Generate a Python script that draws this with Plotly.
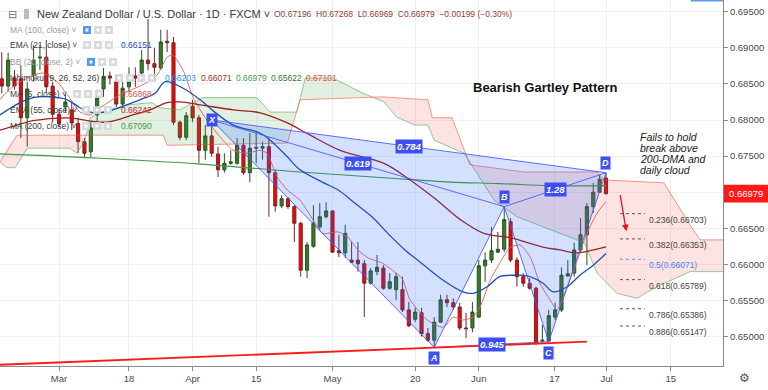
import plotly.graph_objects as go

# ---------------- data ----------------
bar_index = list(range(-9, 87))  # 0 = 1 Mar 2019
opens = [0.6857,0.6847,0.6858,0.6857,0.6803,0.6862,0.6886,0.6887,0.6847,
         0.6808,0.6818,0.6814,0.6795,0.6770,0.6756,0.6807,0.6843,0.6861,0.6853,
         0.6822,0.6846,0.6861,0.6865,0.6883,0.6878,0.6872,0.6909,0.6907,0.6797,
         0.6776,0.6819,0.6803,0.6758,0.6778,0.6753,0.6731,0.6740,0.6740,0.6765,
         0.6727,0.6761,0.6761,0.6763,0.6727,0.6681,0.6691,0.6680,0.6657,0.6592,
         0.6625,0.6652,0.6666,0.6674,0.6619,0.6616,0.6606,0.6606,0.6601,0.6574,
         0.6590,0.6595,0.6567,0.6565,0.6565,0.6537,0.6524,0.6533,0.6504,0.6495,
         0.6520,0.6551,0.6547,0.6541,0.6512,0.6512,0.6527,0.6598,0.6606,0.6617,
         0.6621,0.6659,0.6606,0.6583,0.6574,0.6567,0.6494,0.6494,0.6527,0.6537,
         0.6584,0.6588,0.6620,0.6641,0.6680,0.6700,0.67196]
highs = [0.6894,0.6893,0.6869,0.6876,0.6853,0.6904,0.6904,0.6911,0.6853,
         0.6814,0.6835,0.6825,0.6803,0.6775,0.6797,0.6842,0.6872,0.6867,0.6862,
         0.6853,0.6873,0.6873,0.6897,0.6940,0.6900,0.6925,0.6925,0.6915,0.6799,
         0.6811,0.6828,0.6807,0.6793,0.6800,0.6763,0.6754,0.6758,0.6775,0.6775,
         0.6782,0.6783,0.6770,0.6776,0.6731,0.6696,0.6693,0.6682,0.6659,0.6631,
         0.6682,0.6685,0.6686,0.6675,0.6641,0.6655,0.6631,0.6631,0.6606,0.6595,
         0.6613,0.6599,0.6588,0.6588,0.6583,0.6548,0.6540,0.6540,0.6512,0.6527,
         0.6558,0.6558,0.6553,0.6547,0.6533,0.6548,0.6606,0.6617,0.6652,0.6645,
         0.6680,0.6664,0.6610,0.6588,0.6581,0.6569,0.6516,0.6537,0.6547,0.6596,
         0.6606,0.6630,0.6664,0.6685,0.6713,0.6724,0.67268]
lows = [0.6837,0.6839,0.6842,0.6775,0.6763,0.6853,0.6869,0.6837,0.6797,
        0.6790,0.6811,0.6786,0.6754,0.6747,0.6749,0.6797,0.6832,0.6849,0.6818,
        0.6818,0.6839,0.6846,0.6853,0.6869,0.6855,0.6869,0.6894,0.6793,0.6772,
        0.6772,0.6797,0.6740,0.6745,0.6749,0.6721,0.6727,0.6738,0.6738,0.6724,
        0.6714,0.6740,0.6745,0.6666,0.6673,0.6678,0.6677,0.6631,0.6583,0.6581,
        0.6623,0.6648,0.6664,0.6616,0.6610,0.6609,0.6602,0.6590,0.6527,0.6572,
        0.6585,0.6565,0.6565,0.6551,0.6534,0.6513,0.6520,0.6500,0.6493,0.6485,
        0.6519,0.6541,0.6537,0.6509,0.6498,0.6506,0.6526,0.6576,0.6602,0.6616,
        0.6617,0.6603,0.6569,0.6569,0.6565,0.6488,0.6491,0.6493,0.6523,0.6534,
        0.6583,0.6583,0.6617,0.6599,0.6671,0.6699,0.66969]
closes = [0.6847,0.6883,0.6847,0.6803,0.6843,0.6883,0.6887,0.6846,0.6808,
          0.6795,0.6825,0.6796,0.6770,0.6754,0.6789,0.6831,0.6860,0.6858,0.6822,
          0.6844,0.6853,0.6858,0.6883,0.6878,0.6873,0.6908,0.6907,0.6797,0.6776,
          0.6806,0.6803,0.6758,0.6778,0.6754,0.6731,0.6740,0.6742,0.6765,0.6727,
          0.6761,0.6762,0.6763,0.6727,0.6681,0.6691,0.6680,0.6657,0.6592,0.6627,
          0.6657,0.6666,0.6674,0.6617,0.6616,0.6643,0.6603,0.6601,0.6574,0.6591,
          0.6596,0.6567,0.6576,0.6583,0.6537,0.6515,0.6534,0.6504,0.6495,0.6520,
          0.6551,0.6547,0.6541,0.6512,0.6511,0.6534,0.6598,0.6606,0.6619,0.6621,
          0.6662,0.6606,0.6583,0.6574,0.6567,0.6491,0.6495,0.6529,0.6537,0.6585,
          0.6587,0.6620,0.6641,0.6680,0.6700,0.6718,0.66979]

x_tick_pos = [0, 11, 21, 31, 43, 56, 66, 77.9, 86.1, 96.2]
x_tick_text = ["Mar", "18", "Apr", "15", "May", "20", "Jun", "17", "Jul", "15"]
y_ticks = [0.650, 0.655, 0.660, 0.665, 0.670, 0.675, 0.680, 0.685, 0.690, 0.695]

# indicator lines (read at knots)
ema21_x = [-9.3,-6.1,-4.1,-1.4,1.3,3.3,4.9,7.2,12.7,15.1,16.7,19.5,22.2,24.2,27.4,31.6,33.2,35.9,
           37.9,41.4,43.9,46.5,49.2,51.7,54.4,56.8,60.4,63.5,65.1,67.3,69.3,71.7,73.6,76.1,77.7,
           79.9,81.9,84.0,86.0]
ema21_y = [0.6807,0.6824,0.6831,0.6832,0.6828,0.6817,0.6811,0.6811,0.6828,0.6837,0.6853,0.6844,
           0.6828,0.6813,0.6793,0.6782,0.6772,0.6749,0.6731,0.6714,0.6703,0.6685,0.6666,0.6643,
           0.6620,0.6603,0.6578,0.6562,0.6560,0.6569,0.6583,0.6585,0.6584,0.6574,0.6562,0.6569,
           0.6585,0.6599,0.66151]
ema55_x = [-9.3,-6.6,-4.1,1.3,7.2,11.6,14.3,17.0,19.0,22.2,27.4,31.6,35.9,39.5,44.2,51.1,55.2,
           59.0,63.1,66.8,70.9,76.1,78.8,81.1,84.0,86.0]
ema55_y = [0.6786,0.6793,0.6799,0.6803,0.6797,0.6807,0.6814,0.6824,0.6825,0.6821,0.6814,0.6810,
           0.6796,0.6779,0.6758,0.6740,0.6717,0.6692,0.6662,0.6643,0.6637,0.6624,0.6620,0.6616,
           0.6620,0.66242]
ma200_x = [-9.3, 6.5, 22.2, 37.9, 51.1, 61.5, 69.3, 77.2, 86.0]
ma200_y = [0.6753, 0.6747, 0.6739, 0.6728, 0.6720, 0.6714, 0.6712, 0.6709, 0.67090]
ma5_x = [-9.3,-8.2,-6.1,-4.1,-2.5,-0.3,1.3,3.3,4.9,6.5,9.6,13.2,15.4,17.0,17.9,19.5,21.1,23.0,
         24.8,27.4,29.6,31.6,32.7,34.3,35.9,37.9,39.5,41.4,43.9,45.4,47.0,48.6,50.8,52.4,53.9,
         55.2,57.9,60.4,62.0,63.5,65.1,66.2,67.8,69.3,70.9,72.5,74.1,75.6,77.2,78.3,79.3,81.5,
         83.0,84.6,86.0]
ma5_y = [0.6828,0.6839,0.6853,0.6862,0.6865,0.6853,0.6835,0.6811,0.6807,0.6817,0.6835,0.6849,
         0.6862,0.6887,0.6890,0.6869,0.6831,0.6803,0.6782,0.6758,0.6754,0.6758,0.6754,0.6721,
         0.6703,0.6689,0.6668,0.6643,0.6645,0.6638,0.6620,0.6609,0.6602,0.6592,0.6581,0.6551,
         0.6523,0.6513,0.6527,0.6523,0.6527,0.6541,0.6578,0.6602,0.6623,0.6627,0.6610,0.6574,
         0.6551,0.6537,0.6555,0.6606,0.6643,0.6671,0.66868]

# Ichimoku cloud (leading spans)
spanA_x = [-9.3,-8.2,-6.9,-5.0,1.7,2.8,4.1,4.3,4.9,6.5,10.7,14.6,15.9,19.0,22.6,31.1,33.2,37.4,
           38.7,43.1,47.8,49.2,51.1,53.1,56.0,58.0,59.0,63.7,68.4,72.0,77.4,82.6,84.6,87.7,90.9,
           93.1,94.7,99.2,104.5]
spanA_y = [0.6742,0.6734,0.6734,0.6761,0.6761,0.6754,0.6772,0.6779,0.6803,0.6811,0.6821,0.6824,
           0.6817,0.6814,0.6831,0.6831,0.6811,0.6811,0.6858,0.6858,0.6837,0.6832,0.6825,0.6804,
           0.6793,0.6793,0.6772,0.6754,0.6689,0.6666,0.6648,0.6630,0.6588,0.6560,0.6553,0.6565,
           0.6572,0.6590,0.6590]
spanB_x = [-9.3,-7.7,-6.6,4.3,16.4,17.0,35.9,37.9,49.2,50.9,58.0,58.7,61.8,64.6,73.1,84.6,85.7,
           95.1,99.2,100.8,104.5]
spanB_y = [0.6742,0.6765,0.6779,0.6779,0.6779,0.6765,0.6768,0.6828,0.6832,0.6832,0.6828,0.6803,
           0.6803,0.6738,0.6728,0.6728,0.6717,0.6713,0.6655,0.6634,0.6634]
cloud_breaks = [-9.3, 4.3, 49.2, 104.5]
cloud_bull = [False, True, False]

# Gartley XABCD points
pat_names = ["X", "A", "B", "C", "D"]
pat_x = [24, 59, 70, 77, 86]
pat_y = [0.6800, 0.6485, 0.6680, 0.6493, 0.6727]
ratio_text = ["0.619", "0.784", "1.28", "0.945"]
ratio_pairs = [(0, 2), (0, 4), (2, 4), (1, 3)]

# Fibonacci retracement levels
fib_ratio = ["0.236", "0.382", "0.5", "0.618", "0.786", "0.886"]
fib_price = [0.66703, 0.66353, 0.66071, 0.65789, 0.65386, 0.65147]

# rising support line
support_x = [-9.3, 83.0]
support_y = [0.6461, 0.6493]

last_close = 0.66979

# ---------------- figure ----------------
W, H = 723.0, 366.0
def px(x):
    return x / W
def py(y):
    return (H - y) / H

fig = go.Figure()

# cloud fills
cloud_cols = {True: "rgba(67,160,71,0.16)", False: "rgba(244,67,54,0.15)"}
for k in range(len(cloud_breaks) - 1):
    x0, x1 = cloud_breaks[k], cloud_breaks[k + 1]
    ax = [x for x in spanA_x if x0 <= x <= x1]
    ay = [y for x, y in zip(spanA_x, spanA_y) if x0 <= x <= x1]
    bx = [x for x in spanB_x if x0 <= x <= x1]
    by = [y for x, y in zip(spanB_x, spanB_y) if x0 <= x <= x1]
    fig.add_trace(go.Scatter(x=ax + bx[::-1], y=ay + by[::-1], fill="toself",
                             fillcolor=cloud_cols[cloud_bull[k]], line=dict(width=0),
                             mode="lines", hoverinfo="skip"))
fig.add_trace(go.Scatter(x=spanA_x, y=spanA_y, mode="lines",
                         line=dict(color="rgba(67,160,71,0.55)", width=1)))
fig.add_trace(go.Scatter(x=spanB_x, y=spanB_y, mode="lines",
                         line=dict(color="rgba(244,67,54,0.55)", width=1)))

# MA 200
fig.add_trace(go.Scatter(x=ma200_x, y=ma200_y, mode="lines",
                         line=dict(color="#3f9a45", width=1.2, shape="spline")))

# candles
fig.add_trace(go.Candlestick(
    x=bar_index, open=opens, high=highs, low=lows, close=closes,
    increasing=dict(line=dict(color="#2c4f24", width=1), fillcolor="#377d27"),
    decreasing=dict(line=dict(color="#6a2a2a", width=1), fillcolor="#ff0000"),
    whiskerwidth=0))

# moving averages
fig.add_trace(go.Scatter(x=ma5_x, y=ma5_y, mode="lines",
                         line=dict(color="#e0605a", width=0.9, shape="spline", smoothing=0.6)))
fig.add_trace(go.Scatter(x=ema55_x, y=ema55_y, mode="lines",
                         line=dict(color="#a31f1f", width=1.3, shape="spline")))
fig.add_trace(go.Scatter(x=ema21_x, y=ema21_y, mode="lines",
                         line=dict(color="#1e4fae", width=1.3, shape="spline")))

# pattern fills
pat_fill = "rgba(41,98,255,0.20)"
for tri in [(0, 1, 2), (0, 2, 4), (2, 3, 4)]:
    fig.add_trace(go.Scatter(x=[pat_x[t] for t in tri] + [pat_x[tri[0]]],
                             y=[pat_y[t] for t in tri] + [pat_y[tri[0]]],
                             fill="toself", fillcolor=pat_fill, mode="lines",
                             line=dict(width=0)))
pat_line = "rgba(70,85,245,0.85)"
fig.add_trace(go.Scatter(x=pat_x, y=pat_y, mode="lines", line=dict(color=pat_line, width=1)))
for a, b in ratio_pairs:
    fig.add_trace(go.Scatter(x=[pat_x[a], pat_x[b]], y=[pat_y[a], pat_y[b]], mode="lines",
                             line=dict(color=pat_line, width=1)))

# support line
fig.add_trace(go.Scatter(x=support_x, y=support_y, mode="lines",
                         line=dict(color="#ff1a1a", width=1.8)))

# fib dashed segments
fib_x0, fib_x1 = 88.2, 92.1
for r, p in zip(fib_ratio, fib_price):
    col = "#5b8ef0" if r == "0.5" else "#555555"
    fig.add_trace(go.Scatter(x=[fib_x0, fib_x1], y=[p, p], mode="lines",
                             line=dict(color=col, width=1, dash="3px,3px")))

annotations = []
shapes = []

def note(x, y, text, size, color, xref="paper", yref="paper", xanchor="left",
         yanchor="middle", **kw):
    d = dict(x=x, y=y, xref=xref, yref=yref, text=text, showarrow=False,
             xanchor=xanchor, yanchor=yanchor,
             font=dict(size=size, color=color, family="Liberation Sans"))
    d.update(kw)
    annotations.append(d)

# fib labels
for r, p in zip(fib_ratio, fib_price):
    col = "#4d84ee" if r == "0.5" else "#444444"
    note(92.45, p, f"{r}({p:.5f})", 8.5, col, xref="x", yref="y", yshift=-6)

# pattern point labels
lab_shift = [0, -11, 10, -11, 10]
for n, x, y, s in zip(pat_names, pat_x, pat_y, lab_shift):
    note(x, y, f"<b><i>{n}</i></b>", 9, "white", xref="x", yref="y", xanchor="center",
         yshift=s, bgcolor="#3d4ff2", borderpad=1)
for t, (a, b) in zip(ratio_text, ratio_pairs):
    note((pat_x[a] + pat_x[b]) / 2, (pat_y[a] + pat_y[b]) / 2, f"<b><i>{t}</i></b>", 9.5,
         "white", xref="x", yref="y", xanchor="center", bgcolor="#3d4ff2", borderpad=1)

# text notes
note(px(545), py(87), "<b>Bearish Gartley Pattern</b>", 13, "#111111", xanchor="center")
for txt, yy in [("Fails to hold", 137), ("break above", 148), ("200-DMA and", 159),
                ("daily cloud", 170)]:
    note(px(638), py(yy), f"<i>{txt}</i>", 10.5, "#222222")

# red arrow
annotations.append(dict(x=89.2, y=0.6646, ax=88.2, ay=0.6698, xref="x", yref="y",
                        axref="x", ayref="y", showarrow=True, arrowhead=2, arrowsize=1,
                        arrowwidth=1.3, arrowcolor="#e81010", text=""))

# header
note(px(35), py(14), "New Zealand Dollar / U.S. Dollar · 1D · FXCM ˅", 11, "#3a3a3a")
note(px(272), py(14), "O0.67196  H0.67268  L0.66969  C0.66979  −0.00199 (−0.30%)", 8.5,
     "#9a3b35")
note(px(12), py(14), "⊟", 11, "#777777", xanchor="center")
shapes.append(dict(type="rect", xref="paper", yref="paper", x0=px(24), x1=px(29),
                   y0=py(19), y1=py(9), fillcolor="#bbbbbb", line=dict(width=0)))

# indicator legend rows
legend_rows = [
    ("MA (100, close) ˅", 30, "#9a9ca3", 83, True),
    ("EMA (21, close) ˅", 45, "#3a3a3a", 83, False),
    ("BB (20, close, 2) ˅", 62, "#9a9ca3", 87, True),
    ("Ichimoku (9, 26, 52, 26) ˅", 78, "#3a3a3a", 115, False),
    ("MA (5, close) ˅", 94, "#3a3a3a", 73, False),
    ("EMA (55, close) ˅", 110, "#3a3a3a", 82, False),
    ("MA (200, close) ˅", 126, "#3a3a3a", 82, False),
]
for txt, yy, col, icx, hidden in legend_rows:
    note(px(8), py(yy), txt, 8.5, col)
    n_icons = 4 if "Ichimoku" in txt else 3
    for j in range(n_icons):
        fc = "#3d8ff0" if (hidden and j == 0) else "#d3d6dc"
        shapes.append(dict(type="rect", xref="paper", yref="paper",
                           x0=px(icx + 11 * j), x1=px(icx + 11 * j + 8),
                           y0=py(yy + 4), y1=py(yy - 4), fillcolor=fc,
                           line=dict(width=0), opacity=0.9))
        shapes.append(dict(type="rect", xref="paper", yref="paper",
                           x0=px(icx + 11 * j + 2.5), x1=px(icx + 11 * j + 5.5),
                           y0=py(yy + 1.5), y1=py(yy - 1.5), fillcolor="white",
                           line=dict(width=0), opacity=0.9))

legend_vals = [
    ("0.66151", 119, 45, "#1e4fae"),
    ("0.66203", 163, 78, "#2196f3"),
    ("0.66071", 199, 78, "#9a2f2f"),
    ("0.66979", 234, 78, "#43a047"),
    ("0.65622", 269, 78, "#2e7d32"),
    ("0.67101", 304, 78, "#f44336"),
    ("0.66868", 119, 94, "#d9534f"),
    ("0.66242", 119, 110, "#c62828"),
    ("0.67090", 119, 126, "#3f9a45"),
]
for txt, xx, yy, col in legend_vals:
    note(px(xx), py(yy), txt, 8.5, col)

# last price tag
shapes.append(dict(type="rect", xref="paper", yref="y", x0=px(724), x1=px(768),
                   y0=last_close - 0.00123, y1=last_close + 0.00123,
                   fillcolor="#ff1a1a", line=dict(width=0)))
note(px(746), last_close, f"{last_close:.5f}", 9.5, "white", yref="y", xanchor="center")
# top-right scroll marker, gear
shapes.append(dict(type="rect", xref="paper", yref="paper", x0=px(691), x1=px(723),
                   y0=py(1.5), y1=1.0, fillcolor="#5a9cf0", line=dict(width=0)))
note(px(745), py(378), "⚙", 12, "#555555", xanchor="center")

y_text = [("" if abs(v - last_close) < 0.002 else f"{v:.5f}") for v in y_ticks]

fig.update_layout(
    width=768, height=390, margin=dict(l=0, r=45, t=0, b=24),
    paper_bgcolor="white", plot_bgcolor="white", showlegend=False,
    xaxis=dict(range=[-9.28, 104.4], tickvals=x_tick_pos, ticktext=x_tick_text,
               showgrid=True, gridcolor="#eef0f4", gridwidth=1, zeroline=False,
               showline=True, linecolor="#8a8a8a", linewidth=1, ticks="outside",
               ticklen=4, tickcolor="#8a8a8a", rangeslider=dict(visible=False),
               tickfont=dict(size=9.5, color="#4a4a4a", family="Liberation Sans")),
    yaxis=dict(side="right", range=[0.64593, 0.69662], tickvals=y_ticks, ticktext=y_text,
               showgrid=True, gridcolor="#eef0f4", gridwidth=1, zeroline=False,
               showline=True, linecolor="#8a8a8a", linewidth=1, ticks="outside",
               ticklen=4, tickcolor="#8a8a8a",
               tickfont=dict(size=9.5, color="#4a4a4a", family="Liberation Sans")),
    annotations=annotations, shapes=shapes,
)

fig.write_html("out.html")
